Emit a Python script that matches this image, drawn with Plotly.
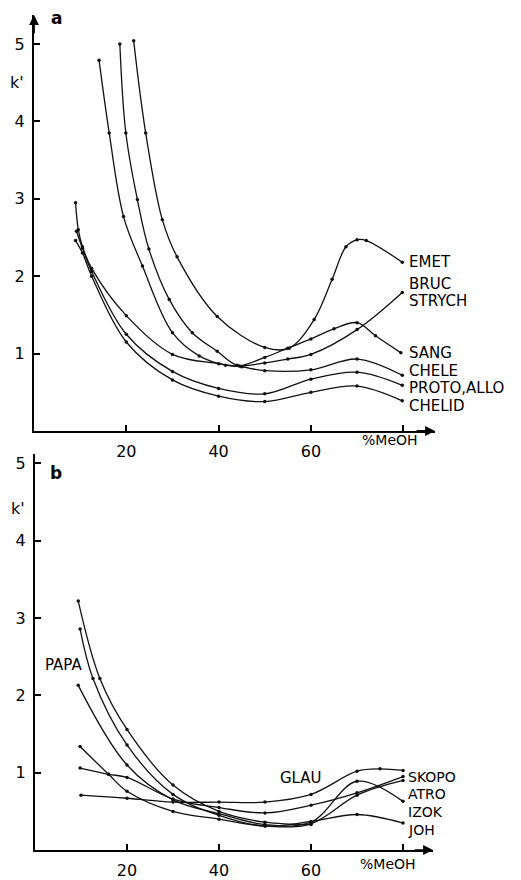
import plotly.graph_objects as go

# ---------------- Panel a : k' vs %MeOH ----------------
emet_x = [21.6, 24.2, 27.8, 31.0, 39.7, 50.0, 55.3, 60.7, 64.6, 67.6, 70.0, 72.0, 79.8]
emet_y = [5.04, 3.85, 2.73, 2.25, 1.48, 1.08, 1.07, 1.44, 1.96, 2.38, 2.47, 2.46, 2.18]

bruc_x = [18.6, 19.9, 22.4, 24.9, 29.3, 34.3, 39.7, 44.0, 50.0, 55.0, 60.0, 70.0, 79.8]
bruc_y = [5.00, 3.85, 2.99, 2.35, 1.70, 1.27, 1.03, 0.85, 0.88, 0.93, 0.99, 1.31, 1.79]

sang_x = [14.1, 16.3, 19.4, 23.5, 30.0, 35.8, 41.5, 44.5, 50.0, 55.0, 60.0, 65.0, 70.0, 74.0, 79.5]
sang_y = [4.79, 3.85, 2.77, 2.13, 1.27, 0.97, 0.85, 0.84, 0.95, 1.07, 1.19, 1.32, 1.40, 1.23, 1.01]

chele_x = [9.0, 9.6, 10.5, 12.5, 20.0, 30.0, 40.0, 45.0, 50.0, 60.0, 70.0, 79.8]
chele_y = [2.95, 2.60, 2.38, 2.10, 1.49, 0.99, 0.87, 0.83, 0.78, 0.79, 0.93, 0.72]

proto_x = [9.2, 10.5, 12.5, 20.0, 30.0, 40.0, 50.0, 60.0, 70.0, 79.8]
proto_y = [2.58, 2.36, 2.06, 1.25, 0.77, 0.55, 0.48, 0.67, 0.76, 0.59]

chelid_x = [9.0, 10.5, 12.5, 20.0, 30.0, 40.0, 50.0, 60.0, 70.0, 79.8]
chelid_y = [2.46, 2.30, 2.00, 1.15, 0.66, 0.45, 0.38, 0.50, 0.58, 0.39]

# ---------------- Panel b ----------------
papa_x = [9.4, 14.1, 20.0, 30.0, 40.0, 50.0, 60.0]
papa_y = [3.22, 2.22, 1.56, 0.84, 0.50, 0.36, 0.33]

joh_x = [9.8, 12.6, 20.0, 30.0, 40.0, 50.0, 60.0, 70.0, 80.0]
joh_y = [2.86, 2.22, 1.36, 0.72, 0.45, 0.31, 0.37, 0.46, 0.35]

atro_x = [9.4, 20.0, 30.0, 40.0, 50.0, 60.0, 70.0, 80.0]
atro_y = [2.13, 1.10, 0.65, 0.47, 0.33, 0.36, 0.89, 0.63]

skopo_x = [9.8, 16.0, 20.0, 30.0, 40.0, 50.0, 60.0, 70.0, 80.0]
skopo_y = [1.06, 0.98, 0.94, 0.66, 0.55, 0.48, 0.58, 0.74, 0.95]

izok_x = [9.8, 16.0, 20.0, 30.0, 40.0, 50.0, 60.0, 70.0, 80.0]
izok_y = [1.34, 0.98, 0.76, 0.50, 0.40, 0.31, 0.34, 0.71, 0.90]

glau_x = [10.0, 20.0, 30.0, 40.0, 50.0, 60.0, 70.0, 75.0, 80.0]
glau_y = [0.71, 0.67, 0.62, 0.62, 0.62, 0.72, 1.02, 1.05, 1.03]

x_ticks = [20, 40, 60, 80]
x_ticktext = ["20", "40", "60", ""]
y_ticks = [1, 2, 3, 4, 5]
y_ticktext = ["1", "2", "3", "4", "5"]

# page body has an 8px margin: figure is drawn 8px in from the top-left corner
OFF = 8
W, H = 513, 872
FONT = "DejaVu Sans"


def px_x(px):
    return (px - OFF) / W


def px_y(py):
    return 1 - (py - OFF) / H


top_series = [(emet_x, emet_y), (bruc_x, bruc_y), (sang_x, sang_y),
              (chele_x, chele_y), (proto_x, proto_y), (chelid_x, chelid_y)]
bot_series = [(papa_x, papa_y), (joh_x, joh_y), (atro_x, atro_y),
              (skopo_x, skopo_y), (izok_x, izok_y), (glau_x, glau_y)]

fig = go.Figure()
for xs, ys in top_series:
    fig.add_trace(go.Scatter(x=xs, y=ys, mode="lines+markers", xaxis="x", yaxis="y",
                             line=dict(color="#111", width=1.3, shape="spline", smoothing=1.0),
                             marker=dict(size=3.5, color="#111"), hoverinfo="skip"))
for xs, ys in bot_series:
    fig.add_trace(go.Scatter(x=xs, y=ys, mode="lines+markers", xaxis="x2", yaxis="y2",
                             line=dict(color="#111", width=1.3, shape="spline", smoothing=1.0),
                             marker=dict(size=3.5, color="#111"), hoverinfo="skip"))

# pixel geometry (window pixels)
top_x0, top_x1, top_y0, top_y1 = 34, 435, 432, 15
bot_x0, bot_x1, bot_y0, bot_y1 = 35, 433, 852, 455
top_sx, top_sy = 4.615, 77.6
bot_sx, bot_sy = 4.6, 77.5

axis_common = dict(showline=True, linewidth=2, linecolor="black", ticks="inside",
                   ticklen=6, tickwidth=1.5, tickcolor="black", showgrid=False,
                   zeroline=False, tickfont=dict(family=FONT, size=16, color="black"))

fig.update_layout(
    width=W, height=H, margin=dict(l=0, r=0, t=0, b=0),
    paper_bgcolor="white", plot_bgcolor="white", showlegend=False,
    xaxis=dict(domain=[px_x(top_x0), px_x(top_x1)], range=[0, (top_x1 - top_x0) / top_sx],
               anchor="y", tickvals=x_ticks, ticktext=x_ticktext, ticklabelstandoff=5, **axis_common),
    yaxis=dict(domain=[px_y(top_y0), px_y(top_y1)], range=[0, (top_y0 - top_y1) / top_sy],
               anchor="x", tickvals=y_ticks, ticktext=y_ticktext, ticklabelstandoff=4, **axis_common),
    xaxis2=dict(domain=[px_x(bot_x0), px_x(bot_x1)], range=[0, (bot_x1 - bot_x0) / bot_sx],
                anchor="y2", tickvals=x_ticks, ticktext=x_ticktext, ticklabelstandoff=5, **axis_common),
    yaxis2=dict(domain=[px_y(bot_y0), px_y(bot_y1)], range=[0, (bot_y0 - bot_y1) / bot_sy],
                anchor="x2", tickvals=y_ticks, ticktext=y_ticktext, ticklabelstandoff=4, **axis_common),
)

ann = []
# arrow heads on axes
ann.append(dict(x=0, y=(top_y0 - top_y1) / top_sy, xref="x", yref="y", text="", showarrow=True,
                ax=0, ay=20, arrowhead=2, arrowsize=1.1, arrowwidth=1.8, arrowcolor="black"))
ann.append(dict(x=(top_x1 - top_x0) / top_sx, y=0, xref="x", yref="y", text="", showarrow=True,
                ax=-20, ay=0, arrowhead=2, arrowsize=1.1, arrowwidth=1.8, arrowcolor="black"))
ann.append(dict(x=(bot_x1 - bot_x0) / bot_sx, y=0, xref="x2", yref="y2", text="", showarrow=True,
                ax=-20, ay=0, arrowhead=2, arrowsize=1.1, arrowwidth=1.8, arrowcolor="black"))


def txt(s, px, py, size=16, xanchor="center", bold=False):
    ann.append(dict(x=px_x(px), y=px_y(py), xref="paper", yref="paper",
                    text=("<b>%s</b>" % s) if bold else s,
                    showarrow=False, xanchor=xanchor, yanchor="middle",
                    font=dict(family=FONT, size=size, color="black")))


txt("a", 56, 18, 17, bold=True)
txt("k'", 17, 83, 16)
txt("b", 56, 474, 17, bold=True)
txt("k'", 18, 510, 16)
txt("%MeOH", 390, 441, 14)
txt("%MeOH", 388, 866, 14)

top_labels = ["EMET", "BRUC", "STRYCH", "SANG", "CHELE", "PROTO,ALLO", "CHELID"]
top_label_y = [263, 285, 302, 354, 372, 389, 407]
for s, py in zip(top_labels, top_label_y):
    txt(s, 407, py, 15, xanchor="left")

bot_labels = ["SKOPO", "ATRO", "IZOK", "JOH"]
bot_label_y = [779, 796, 814, 832]
for s, py in zip(bot_labels, bot_label_y):
    txt(s, 406, py, 14, xanchor="left")
txt("PAPA", 63, 667, 15)
txt("GLAU", 301, 780, 15)

fig.update_layout(annotations=ann)
fig.write_html("out.html")
